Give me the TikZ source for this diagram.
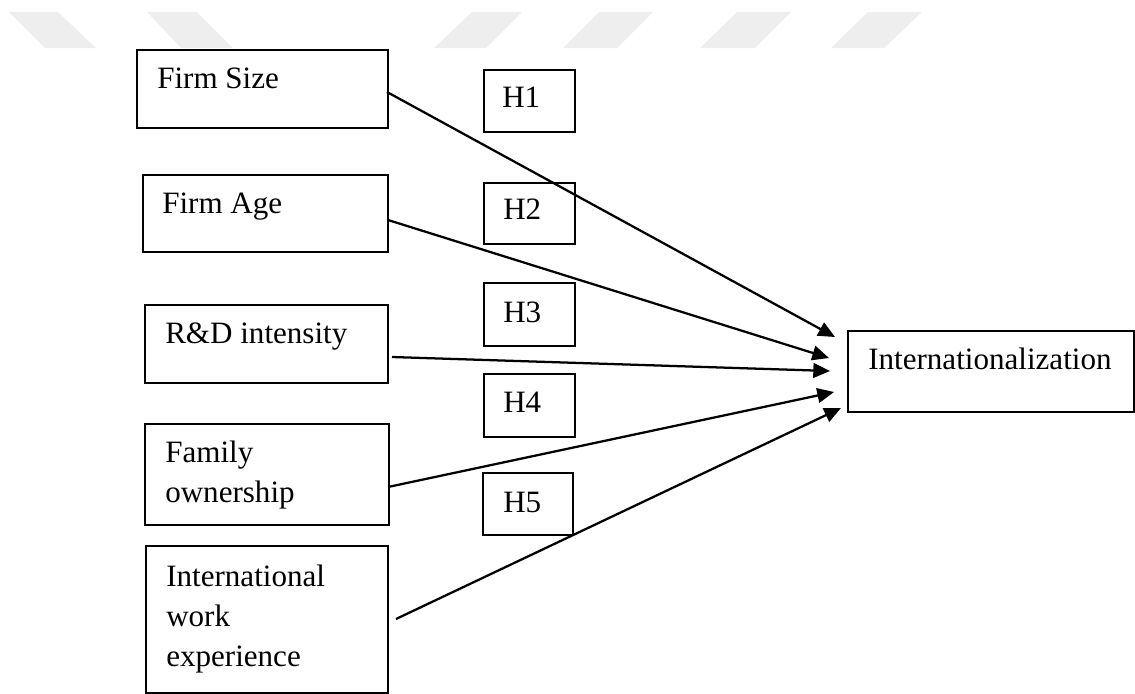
\documentclass[tikz,border=0pt]{standalone}
\usepackage{fontspec}
\setmainfont{Liberation Serif}
\newfontfamily\tnr{Liberation Serif}
\usetikzlibrary{arrows.meta}
\definecolor{wm}{RGB}{238,238,238}
\begin{document}
\begin{tikzpicture}[x=0.75pt,y=-0.75pt,
  box/.style={draw=black, line width=1.7pt, inner sep=0pt, anchor=north west},
  txt/.style={inner sep=0pt, anchor=base west, align=left, font=\tnr\fontsize{23.3}{30}\selectfont},
  link/.style={line width=1.7pt, -{Triangle[length=12.5pt,width=11pt]}},
  wmark/.style={fill=wm, draw=none}]
\useasboundingbox (0,0) rectangle (1135,693);
% watermark bands
\fill[wmark] (9,12) -- (58,12) -- (96,48) -- (45,48) -- cycle;
\fill[wmark] (147,12) -- (197,12) -- (233,48) -- (181,48) -- cycle;
\fill[wmark] (472,12) -- (522,12) -- (486,48) -- (434,48) -- cycle;
\fill[wmark] (599,12) -- (653,12) -- (617,48) -- (563,48) -- cycle;
\fill[wmark] (737,12) -- (791,12) -- (755,48) -- (700,48) -- cycle;
\fill[wmark] (868,12) -- (922,12) -- (884,48) -- (831,48) -- cycle;
% boxes
\node[box, minimum width=251*0.75pt, minimum height=78*0.75pt] (fs) at (136,49) {};
\node[box, minimum width=245*0.75pt, minimum height=77*0.75pt] (fa) at (142,174) {};
\node[box, minimum width=243*0.75pt, minimum height=78*0.75pt] (rd) at (144,304) {};
\node[box, minimum width=244*0.75pt, minimum height=101*0.75pt] (fo) at (144,423) {};
\node[box, minimum width=242*0.75pt, minimum height=147*0.75pt] (iwe) at (145,545) {};
\node[box, minimum width=286*0.75pt, minimum height=81*0.75pt] (int) at (847,330) {};
\node[box, minimum width=91*0.75pt, minimum height=62*0.75pt] (h1) at (483,69) {};
\node[box, minimum width=91*0.75pt, minimum height=61*0.75pt] (h2) at (483,182) {};
\node[box, minimum width=91*0.75pt, minimum height=63*0.75pt] (h3) at (483,282) {};
\node[box, minimum width=91*0.75pt, minimum height=63*0.75pt] (h4) at (483,373) {};
\node[box, minimum width=90*0.75pt, minimum height=62*0.75pt] (h5) at (482,472) {};
% texts (multi-line nodes are placed by their last baseline)
\node[txt] (fs-t) at (157,88) {Firm Size};
\node[txt] (fa-t) at (162,213) {Firm Age};
\node[txt] (rd-t) at (165,343) {R\&D intensity};
\node[txt] (fo-t) at (165,502) {Family\\ownership};
\node[txt] (iwe-t) at (166,666) {International\\work\\experience};
\node[txt] (int-t) at (868,369) {Internationalization};
\node[txt] (h1-t) at (502,107) {H1};
\node[txt] (h2-t) at (503,219) {H2};
\node[txt] (h3-t) at (503,322) {H3};
\node[txt] (h4-t) at (503,412) {H4};
\node[txt] (h5-t) at (503,512) {H5};
% connector ends
\coordinate (s1) at (387,92);
\coordinate (s2) at (388,220);
\coordinate (s3) at (392,357);
\coordinate (s4) at (388,487);
\coordinate (s5) at (396,619);
\coordinate (e1) at (835,337);
\coordinate (e2) at (829,358);
\coordinate (e3) at (830,371);
\coordinate (e4) at (834,392);
\coordinate (e5) at (841,408);
\draw[link] (s1) -- (e1);
\draw[link] (s2) -- (e2);
\draw[link] (s3) -- (e3);
\draw[link] (s4) -- (e4);
\draw[link] (s5) -- (e5);
\end{tikzpicture}
\end{document}
